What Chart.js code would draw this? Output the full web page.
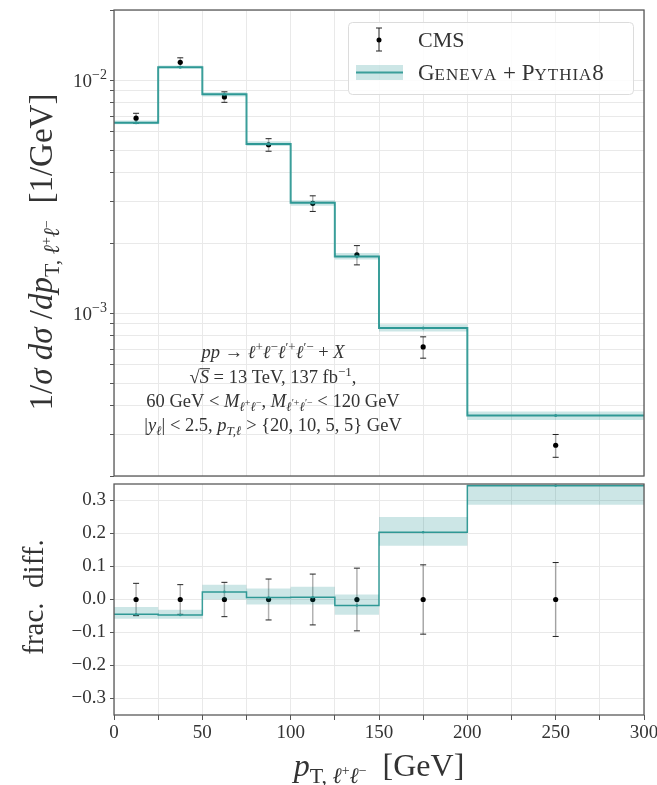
<!DOCTYPE html>
<html>
<head>
<meta charset="utf-8">
<script src="https://cdn.jsdelivr.net/npm/chart.js@4.4.1/dist/chart.umd.min.js"></script>
<style>
    html, body { margin: 0; padding: 0; background: #fff; }
    #wrap { position: relative; width: 657px; height: 785px; }
    #topChart { position: absolute; left: 0; top: 0; }
    #ratioChart { position: absolute; left: 0; top: 480px; }
</style>
</head>
<body>
<div id="wrap">
    <canvas id="topChart" width="657" height="480" style="width:657px;height:480px"></canvas>
    <canvas id="ratioChart" width="657" height="305" style="width:657px;height:305px"></canvas>
</div>
<script>
// bins of p_T(l+l-) [GeV]
const binEdges = [0, 25, 50, 75, 100, 125, 150, 200, 300];
const binCenters = [12.5, 37.5, 62.5, 87.5, 112.5, 137.5, 175, 250];

// CMS data, 1/sigma dsigma/dpT [1/GeV]
const cmsValues = [0.00687, 0.01193, 0.00847, 0.00528, 0.00296, 0.00178, 0.000716, 0.000271];
const cmsErrors = [0.000337, 0.000537, 0.00044, 0.000327, 0.000228, 0.000169, 0.0000752, 0.0000304];

// Geneva + Pythia8 prediction and its band
const genevaValues = [0.00656, 0.01136, 0.00869, 0.00532, 0.00298, 0.00175, 0.000864, 0.000364];
const genevaLow = [0.00647, 0.01122, 0.00850, 0.00521, 0.00289, 0.00170, 0.000835, 0.000348];
const genevaHigh = [0.00671, 0.01155, 0.00888, 0.00546, 0.00305, 0.00181, 0.000897, 0.000378];

// fractional difference panel
const cmsRatio = [0, 0, 0, 0, 0, 0, 0, 0];
const cmsRatioErrors = [0.049, 0.045, 0.052, 0.062, 0.077, 0.095, 0.105, 0.112];
const ratioGeneva = [-0.045, -0.047, 0.023, 0.006, 0.007, -0.018, 0.204, 0.345];
const ratioLow = [-0.058, -0.058, 0.0, -0.015, -0.015, -0.046, 0.163, 0.287];
const ratioHigh = [-0.023, -0.031, 0.045, 0.033, 0.039, 0.015, 0.25, 0.40];

// ticks
const xTickValues = [0, 25, 50, 75, 100, 125, 150, 175, 200, 225, 250, 275, 300];
const xTickLabels = { 0: '0', 50: '50', 100: '100', 150: '150', 200: '200', 250: '250', 300: '300' };
const ratioTicks = [-0.3, -0.2, -0.1, 0, 0.1, 0.2, 0.3];
const ratioTickLabels = ['\u22120.3', '\u22120.2', '\u22120.1', '0.0', '0.1', '0.2', '0.3'];
const logDecades = [1e-4, 1e-3, 1e-2];
const logMantissas = [1, 2, 3, 4, 5, 6, 7, 8, 9];
const logTickLabels = [
    { value: 1e-2, base: '10', exp: '\u22122' },
    { value: 1e-3, base: '10', exp: '\u22123' },
];

const SERIF = '"Liberation Serif", "DejaVu Serif", serif';
const TEXT = '#333';
const TEAL = '#3a9e9a';
const BAND = 'rgba(0, 128, 128, 0.2)';
const GRID = '#e9e9e9';

/**
 * @param {number[]} values
 */
function toSteps(values) {
    return binEdges.map((x, i) => ({ x: x, y: values[Math.min(i, values.length - 1)] }));
}

function toPoints(values) {
    return binCenters.map((x, i) => ({ x: x, y: values[i] }));
}

function font(size, italic) {
    return (italic ? 'italic ' : '') + size + 'px ' + SERIF;
}

// rich text: parts of {t, s, i, dy, over, ls}
function N(t, s, dy) { return { t: t, s: s, i: false, dy: dy || 0 }; }
function I(t, s, dy) { return { t: t, s: s, i: true, dy: dy || 0 }; }
function SC(t, s, ls) { return { t: t, s: s, i: false, dy: 0, ls: ls }; }

function partWidth(ctx, p) {
    ctx.font = font(p.s, p.i);
    if (p.ls) {
        return [...p.t].reduce((w, c) => w + ctx.measureText(c).width + p.ls, 0);
    }
    return ctx.measureText(p.t).width;
}

function drawRich(ctx, parts, x, y, align) {
    let w = 0;
    parts.forEach(p => { w += partWidth(ctx, p); });
    let cx = align === 'center' ? x - w / 2 : (align === 'right' ? x - w : x);
    ctx.textAlign = 'left';
    ctx.textBaseline = 'alphabetic';
    parts.forEach(p => {
        ctx.font = font(p.s, p.i);
        const tw = partWidth(ctx, p);
        if (p.ls) {
            let c0 = cx;
            [...p.t].forEach(c => {
                ctx.fillText(c, c0, y + p.dy);
                c0 += ctx.measureText(c).width + p.ls;
            });
        } else {
            ctx.fillText(p.t, cx, y + p.dy);
        }
        if (p.over) {
            ctx.fillRect(cx, y + p.dy - p.s * 0.8, tw + 1, 1);
        }
        cx += tw;
    });
}

function drawErrorBars(chart, xs, ys, errs) {
    const ctx = chart.ctx;
    const xScale = chart.scales.x;
    const yScale = chart.scales.y;
    const area = chart.chartArea;
    ctx.save();
    ctx.beginPath();
    ctx.rect(area.left, area.top, area.right - area.left, area.bottom - area.top);
    ctx.clip();
    xs.forEach((xv, i) => {
        const px = xScale.getPixelForValue(xv);
        const y1 = yScale.getPixelForValue(ys[i] + errs[i]);
        const y2 = yScale.getPixelForValue(ys[i] - errs[i]);
        ctx.strokeStyle = 'rgba(0,0,0,0.3)';
        ctx.lineWidth = 1.5;
        ctx.beginPath();
        ctx.moveTo(px, y1);
        ctx.lineTo(px, y2);
        ctx.stroke();
        ctx.strokeStyle = '#222';
        ctx.lineWidth = 1;
        ctx.beginPath();
        ctx.moveTo(px - 3, y1);
        ctx.lineTo(px + 3, y1);
        ctx.moveTo(px - 3, y2);
        ctx.lineTo(px + 3, y2);
        ctx.stroke();
    });
    ctx.restore();
}

function drawFrame(chart) {
    const ctx = chart.ctx;
    const a = chart.chartArea;
    ctx.save();
    ctx.strokeStyle = '#5a5a5a';
    ctx.lineWidth = 1.3;
    ctx.strokeRect(a.left, a.top, a.right - a.left, a.bottom - a.top);
    ctx.restore();
}

const subSize = 22, supSize = 14;
const dileptonSub = [
    N('T,', subSize, 7), I(' \u2113', subSize, 7), N('+', supSize, -1),
    I('\u2113', subSize, 7), N('\u2212', supSize, -1),
];

const topPlugin = {
    id: 'topDecor',
    beforeDatasetDraw(chart, args) {
        if (args.index === 4) {
            drawErrorBars(chart, binCenters, cmsValues, cmsErrors);
        }
    },
    afterDraw(chart) {
        const ctx = chart.ctx;
        const yScale = chart.scales.y;
        drawFrame(chart);
        ctx.save();
        ctx.fillStyle = TEXT;
        // log tick labels
        logTickLabels.forEach(t => {
            const py = yScale.getPixelForValue(t.value);
            ctx.font = font(14, false);
            const ew = ctx.measureText(t.exp).width;
            drawRich(ctx, [N(t.base, 19)], 107 - ew, py + 7, 'right');
            drawRich(ctx, [N(t.exp, 14)], 107, py - 1, 'right');
        });
        // y title
        ctx.save();
        ctx.translate(52, 252);
        ctx.rotate(-Math.PI / 2);
        drawRich(ctx, [
            N('1/', 33), I('\u03c3', 33), N(' ', 33), I('d\u03c3', 33), N(' /', 33), I('dp', 33),
            ...dileptonSub, N('  [1/GeV]', 33),
        ], 0, 0, 'center');
        ctx.restore();

        // process annotation
        const fs = 18.5, ss = 13, ts = 10;
        drawRich(ctx, [
            I('pp', fs), N(' \u2192 ', fs), I('\u2113', fs), N('+', ss, -7), I('\u2113', fs), N('\u2212', ss, -7),
            I('\u2113', fs), N('\u2032+', ss, -7), I('\u2113', fs), N('\u2032\u2212', ss, -7), N(' + ', fs), I('X', fs),
        ], 273, 358, 'center');
        const sq = I('S', fs);
        sq.over = true;
        drawRich(ctx, [
            N('\u221a', fs), sq, N(' = 13 TeV, 137 fb', fs), N('\u22121', ss, -7), N(',', fs),
        ], 273, 383, 'center');
        drawRich(ctx, [
            N('60 GeV < ', fs), I('M', fs), I('\u2113', ss, 4), N('+', ts, -1), I('\u2113', ss, 4), N('\u2212', ts, -1),
            N(', ', fs), I('M', fs), I('\u2113', ss, 4), N('\u2032+', ts, -1), I('\u2113', ss, 4), N('\u2032\u2212', ts, -1),
            N(' < 120 GeV', fs),
        ], 273, 407, 'center');
        drawRich(ctx, [
            N('|', fs), I('y', fs), I('\u2113', ss, 4), N('| < 2.5, ', fs), I('p', fs), I('T,\u2113', ss, 4),
            N(' > {20, 10, 5, 5} GeV', fs),
        ], 273, 431, 'center');

        // legend
        ctx.fillStyle = 'rgba(255,255,255,0.85)';
        ctx.strokeStyle = '#dcdcdc';
        ctx.lineWidth = 1;
        ctx.beginPath();
        ctx.roundRect(348.5, 22.5, 285, 72, 4);
        ctx.fill();
        ctx.stroke();
        ctx.strokeStyle = '#222';
        ctx.beginPath();
        ctx.moveTo(379, 28); ctx.lineTo(379, 51);
        ctx.moveTo(376, 28); ctx.lineTo(382, 28);
        ctx.moveTo(376, 51); ctx.lineTo(382, 51);
        ctx.stroke();
        ctx.fillStyle = '#000';
        ctx.beginPath();
        ctx.arc(379, 40, 2.5, 0, Math.PI * 2);
        ctx.fill();
        ctx.fillStyle = BAND;
        ctx.fillRect(356, 65, 47, 15);
        ctx.strokeStyle = TEAL;
        ctx.lineWidth = 2;
        ctx.beginPath();
        ctx.moveTo(356, 72.5); ctx.lineTo(403, 72.5);
        ctx.stroke();
        ctx.fillStyle = TEXT;
        drawRich(ctx, [N('CMS', 22)], 418, 47, 'left');
        drawRich(ctx, [
            N('G', 23), SC('ENEVA', 17, 1), N(' + P', 23), SC('YTHIA', 17, 1), N('8', 23),
        ], 418, 80, 'left');
        ctx.restore();
    }
};

const ratioPlugin = {
    id: 'ratioDecor',
    beforeDatasetDraw(chart, args) {
        if (args.index === 4) {
            drawErrorBars(chart, binCenters, cmsRatio, cmsRatioErrors);
        }
    },
    afterDraw(chart) {
        const ctx = chart.ctx;
        drawFrame(chart);
        ctx.save();
        ctx.fillStyle = TEXT;
        ctx.save();
        ctx.translate(43, 117);
        ctx.rotate(-Math.PI / 2);
        drawRich(ctx, [N('frac.  diff.', 29)], 0, 0, 'center');
        ctx.restore();
        drawRich(ctx, [I('p', 32), ...dileptonSub, N('  [GeV]', 32)], 379, 296, 'center');
        ctx.restore();
    }
};

const xFit = (scale) => {
    scale.paddingLeft = 0;
    scale.paddingRight = 0;
};

const commonX = {
    type: 'linear',
    min: 0,
    max: 300,
    afterBuildTicks: (scale) => { scale.ticks = xTickValues.map(v => ({ value: v })); },
    grid: { color: GRID, tickColor: '#555', tickLength: 5 },
    border: { display: false },
};

function stepLine(values, extra) {
    return Object.assign({
        data: toSteps(values),
        stepped: 'before',
        pointRadius: 0,
        borderWidth: 0,
        borderColor: 'rgba(0,0,0,0)',
        fill: false,
    }, extra);
}

function pointSet(values, color, radius) {
    return {
        data: toPoints(values),
        showLine: false,
        pointRadius: radius,
        pointBackgroundColor: color,
        pointBorderWidth: 0,
        borderColor: color,
    };
}

new Chart(document.getElementById('topChart'), {
    type: 'line',
    data: {
        datasets: [
            stepLine(genevaLow),
            stepLine(genevaHigh, { fill: '-1', backgroundColor: BAND }),
            stepLine(genevaValues, { borderColor: TEAL, borderWidth: 2 }),
            pointSet(genevaValues, TEAL, 1.5),
            pointSet(cmsValues, '#000', 2.6),
        ]
    },
    options: {
        responsive: false,
        animation: false,
        events: [],
        layout: { padding: { left: 0, right: 13, top: 10, bottom: 1 } },
        plugins: { legend: { display: false }, tooltip: { enabled: false } },
        scales: {
            x: Object.assign({}, commonX, {
                ticks: { display: false },
                grid: { color: GRID, drawTicks: false },
                afterFit: (scale) => { xFit(scale); scale.height = 0; },
            }),
            y: {
                type: 'logarithmic',
                min: 2e-4,
                max: 2e-2,
                afterBuildTicks: (scale) => {
                    const ticks = [];
                    logDecades.forEach(d => logMantissas.forEach(m => {
                        const v = d * m;
                        if (v >= 2e-4 * 0.999 && v <= 2e-2 * 1.001) ticks.push({ value: v });
                    }));
                    scale.ticks = ticks;
                },
                afterFit: (scale) => { scale.width = 114; scale.paddingTop = 0; scale.paddingBottom = 0; },
                ticks: { autoSkip: false, callback: () => '' },
                grid: { color: GRID, tickColor: '#555', tickLength: 4 },
                border: { display: false },
            }
        }
    },
    plugins: [topPlugin]
});

new Chart(document.getElementById('ratioChart'), {
    type: 'line',
    data: {
        datasets: [
            stepLine(ratioLow),
            stepLine(ratioHigh, { fill: '-1', backgroundColor: BAND }),
            stepLine(ratioGeneva, { borderColor: TEAL, borderWidth: 1.5 }),
            pointSet(ratioGeneva, TEAL, 1.3),
            pointSet(cmsRatio, '#000', 2.6),
        ]
    },
    options: {
        responsive: false,
        animation: false,
        events: [],
        layout: { padding: { left: 0, right: 13, top: 2, bottom: 0 } },
        plugins: { legend: { display: false }, tooltip: { enabled: false } },
        scales: {
            x: Object.assign({}, commonX, {
                ticks: {
                    autoSkip: false,
                    maxRotation: 0,
                    padding: 2,
                    color: TEXT,
                    font: { family: SERIF, size: 19 },
                    callback: (v) => (v in xTickLabels ? xTickLabels[v] : ''),
                },
                afterFit: (scale) => { xFit(scale); scale.height = 70; },
            }),
            y: {
                type: 'linear',
                min: -0.35,
                max: 0.35,
                afterBuildTicks: (scale) => { scale.ticks = ratioTicks.map(v => ({ value: v })); },
                afterFit: (scale) => { scale.width = 114; scale.paddingTop = 0; scale.paddingBottom = 0; },
                ticks: {
                    autoSkip: false,
                    padding: 4,
                    color: TEXT,
                    font: { family: SERIF, size: 19 },
                    callback: (v) => ratioTickLabels[ratioTicks.findIndex(t => Math.abs(t - v) < 1e-9)],
                },
                grid: { color: GRID, tickColor: '#555', tickLength: 4 },
                border: { display: false },
            }
        }
    },
    plugins: [ratioPlugin]
});
</script>
</body>
</html>
